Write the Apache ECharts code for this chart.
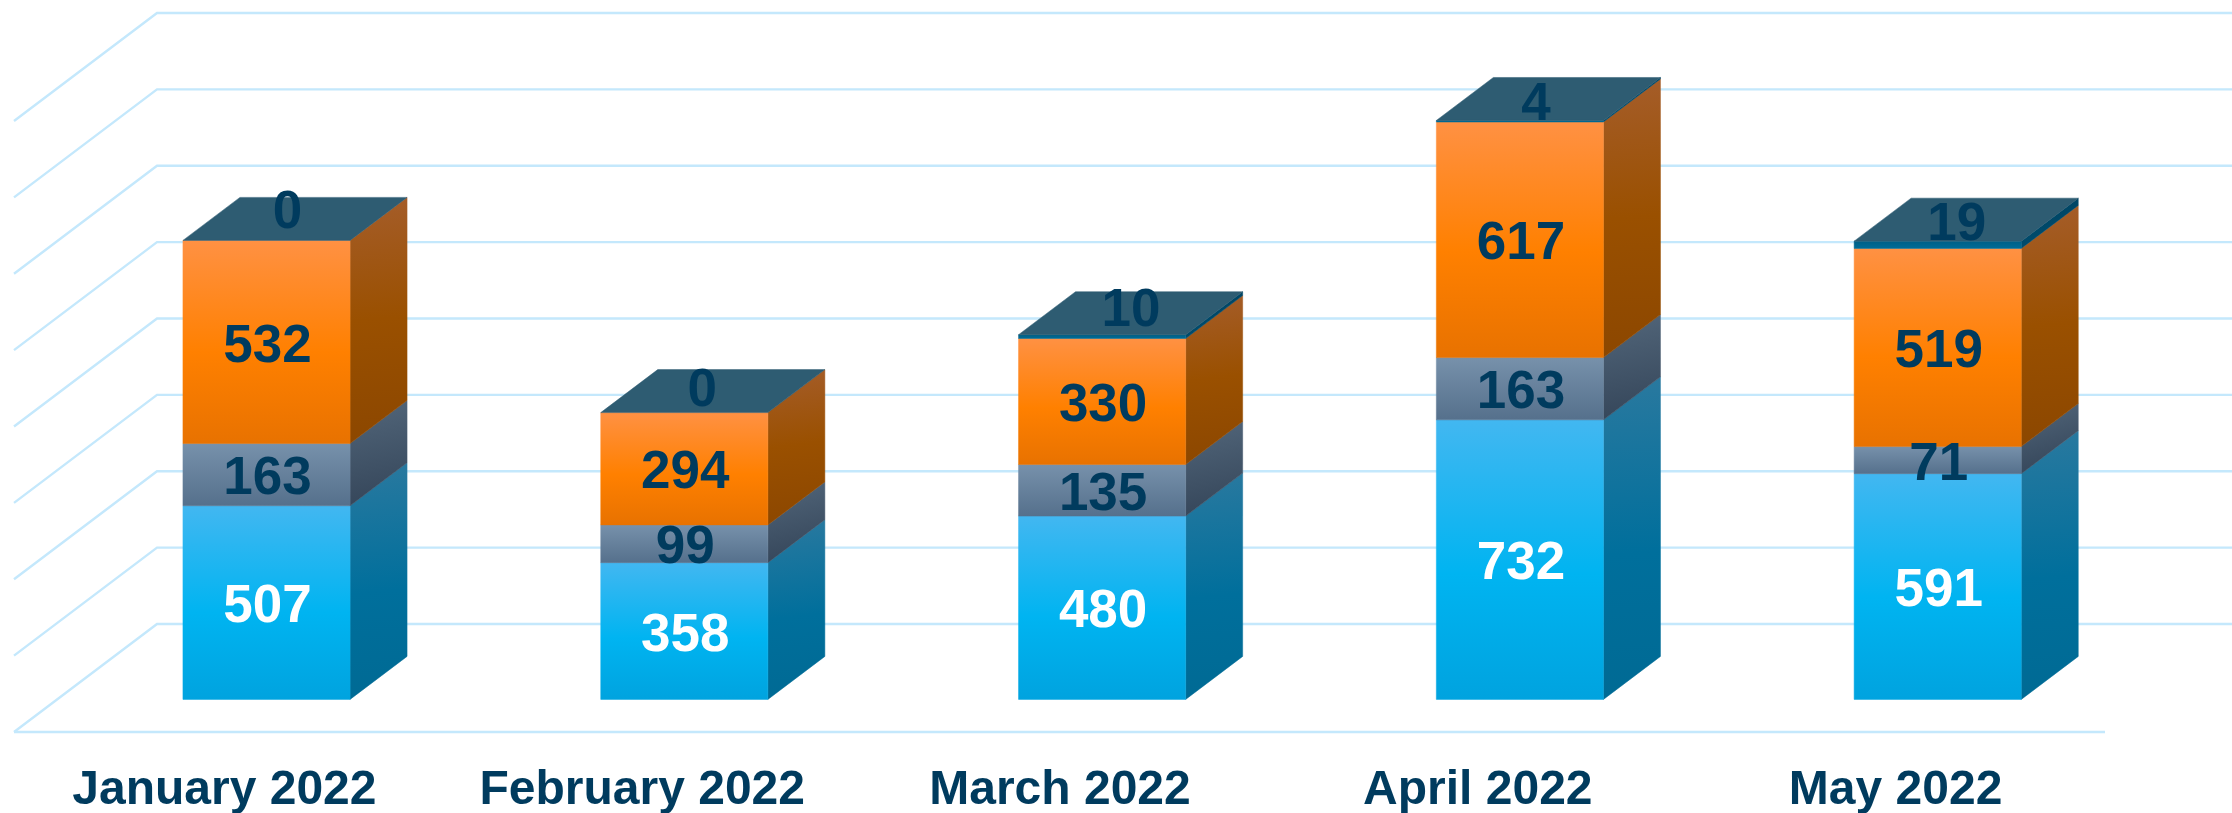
<!DOCTYPE html>
<html>
<head>
<meta charset="utf-8">
<style>html,body{margin:0;padding:0;background:#fff}#chart{width:2232px;height:813px}</style>
<script src="https://cdn.jsdelivr.net/npm/echarts@6/dist/echarts.min.js"></script>
</head>
<body>
<div id="chart"></div>
<script>
const categories = ['January 2022', 'February 2022', 'March 2022', 'April 2022', 'May 2022'];
const seriesA = [507, 358, 480, 732, 591];
const seriesB = [163, 99, 135, 163, 71];
const seriesC = [532, 294, 330, 617, 519];
const seriesD = [0, 0, 10, 4, 19];
const yTicks = [0, 200, 400, 600, 800, 1000, 1200, 1400, 1600];

// projection of the pseudo-3D scene (pixels)
const FLOOR_DX = 143, FLOOR_DY = 108, BAR_DX = 57, BAR_DY = 43, BAR_IN_X = 43.6, BAR_IN_Y = 32.6, BAR_RATIO = 0.4;
const TEXT = '#003b5e', FONT = '"Liberation Sans", Arial, sans-serif', LABEL_SIZE = 53, LABEL_DY = 5, LABEL_DX = 1;
const topLabelShift = [[21, -32], [18, -26], [29, -28], [16, -20], [19, -21]];

const vgrad = (stops) => ({type:'linear',x:0,y:0,x2:0,y2:1,colorStops:stops.map(s=>({offset:s[0],color:s[1]}))});
const dgrad = (stops) => ({type:'linear',x:0,y:0,x2:0.35,y2:1,colorStops:stops.map(s=>({offset:s[0],color:s[1]}))});

const looks = [
  {front:vgrad([[0,'#42b7f1'],[0.55,'#00b4f1'],[1,'#00a3df']]),
   side:dgrad([[0,'#2a799f'],[0.55,'#006f9c'],[1,'#006a94']]), text:'#ffffff'},
  {front:vgrad([[0,'#7791ab'],[1,'#55708c']]),
   side:dgrad([[0,'#52667a'],[1,'#35465a']]), text:TEXT},
  {front:vgrad([[0,'#ff9143'],[0.55,'#ff8000'],[1,'#e87200']]),
   side:dgrad([[0,'#a55d2a'],[0.5,'#9a5000'],[1,'#8c4700']]), text:TEXT},
  {front:vgrad([[0,'#005f85'],[1,'#006c98']]),
   side:dgrad([[0,'#003f5c'],[1,'#004e70']]), text:TEXT}
];

function poly(points, fill, z2){
  return {type:'polygon',shape:{points},z2,silent:true,style:{fill,stroke:fill,lineWidth:0.5}};
}

function renderBar(level){
  return function(params, api){
    const i = api.value(0), base = api.value(1), v = api.value(2);
    const half = api.size([1,0])[0]*BAR_RATIO/2;
    const cx = api.coord([i,0])[0] + BAR_IN_X;
    const yb = api.coord([i,base])[1] - BAR_IN_Y;
    const yt = api.coord([i,base+v])[1] - BAR_IN_Y;
    const L = cx-half, R = cx+half, look = looks[level];
    const kids = [];
    if (v > 0){
      kids.push(poly([[R,yb],[R+BAR_DX,yb-BAR_DY],[R+BAR_DX,yt-BAR_DY],[R,yt]],look.side,10+level));
      kids.push(poly([[L,yb],[R,yb],[R,yt],[L,yt]],look.front,20+level));
    }
    if (level === 3){
      kids.push(poly([[L,yt],[L+BAR_DX,yt-BAR_DY],[R+BAR_DX,yt-BAR_DY],[R,yt]],'#2e5c72',40));
    }
    const s = level === 3 ? topLabelShift[i] : [LABEL_DX,0];
    kids.push({type:'text',z2:100,silent:true,
      style:{text:String(v),x:cx+s[0],y:(level===3?yt:(yt+yb)/2)+s[1]+LABEL_DY,align:'center',verticalAlign:'middle',
        fill:look.text,font:'bold '+LABEL_SIZE+'px '+FONT}});
    return {type:'group',children:kids};
  };
}

function renderWall(params, api){
  const v = api.value(0), y = api.coord([0,v])[1], c = params.coordSys;
  const kids = [{type:'polyline',silent:true,z2:0,
    shape:{points:[[c.x,y],[c.x+FLOOR_DX,y-FLOOR_DY],[c.x+c.width+FLOOR_DX,y-FLOOR_DY]]},
    style:{fill:null,stroke:'#c4e8fc',lineWidth:2.4}}];
  if (v === 0){
    kids.push({type:'line',silent:true,z2:0,
      shape:{x1:c.x,y1:y,x2:c.x+c.width+2,y2:y},style:{stroke:'#c4e8fc',lineWidth:2.4}});
  }
  return {type:'group',children:kids};
}

let running = [0,0,0,0,0];
function stacked(values){
  const rows = values.map((v,i)=>[i,running[i],v]);
  running = running.map((b,i)=>b+values[i]);
  return rows;
}
const layers = [seriesA,seriesB,seriesC,seriesD];
const barSeries = layers.map((vals,k)=>({
  type:'custom',name:'Series '+(k+1),z:3,clip:false,animation:false,
  renderItem:renderBar(k),encode:{x:0,y:2},data:stacked(vals)
}));

const chart = echarts.init(document.getElementById('chart'),null,{renderer:'canvas'});
chart.setOption({
  animation:false,
  backgroundColor:'#ffffff',
  grid:{left:14,right:129,top:121,height:611,containLabel:false,outerBoundsMode:'none'},
  xAxis:{type:'category',data:categories,
    axisLine:{show:false},
    axisTick:{show:false},splitLine:{show:false},
    axisLabel:{interval:0,margin:35,padding:[0,0,0,3],color:TEXT,fontFamily:FONT,fontWeight:'bold',fontSize:48}},
  yAxis:{type:'value',min:0,max:1600,interval:200,show:false,splitLine:{show:false}},
  series:[{type:'custom',name:'Grid',z:1,clip:false,animation:false,silent:true,
    renderItem:renderWall,encode:{y:0},data:yTicks.map(v=>[v])}].concat(barSeries)
});
</script>
</body>
</html>
